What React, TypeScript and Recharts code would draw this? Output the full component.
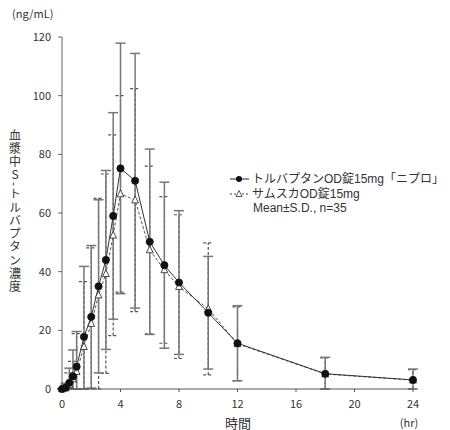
import React from 'react';
import { LineChart, Line, XAxis, YAxis, ErrorBar, Legend, Label } from 'recharts';

const FONT = '"Noto Sans CJK JP", "Noto Sans", sans-serif';
const LEGEND_FONT = '"Liberation Sans", "Noto Sans CJK JP", sans-serif';

const times = [0, 0.25, 0.5, 0.75, 1, 1.5, 2, 2.5, 3, 3.5, 4, 5, 6, 7, 8, 10, 12, 18, 24];
const tolvMean = [0, 0.5, 2.1, 4.3, 7.6, 17.8, 24.6, 35, 44, 59, 75.2, 71, 50.2, 42.2, 36.3, 26, 15.6, 5.2, 3.1];
const tolvSD = [0, 1.5, 5, 9, 12, 24, 24.3, 29.5, 30.5, 35.2, 42.7, 43.4, 31.6, 28.3, 24.5, 19.2, 12.8, 5.6, 3.7];
const samMean = [0, 0.3, 1.5, 3.4, 5.9, 14.4, 22.3, 32, 39.3, 52.4, 66.5, 64.4, 47.4, 40.6, 34.9, 27.3, 15.4, 5.1, 3.0];
const samSD = [0, 1, 4, 6, 13, 22.2, 25.8, 33, 34, 34.2, 33.5, 38, 28.6, 25, 24.5, 22.5, 12.6, 5.5, 3.6];

const xTicks = [0, 4, 8, 12, 16, 20, 24];
const yTicks = [0, 20, 40, 60, 80, 100, 120];

const seriesNames = ['トルバプタンOD錠15mg「ニプロ」', 'サムスカOD錠15mg'];
const statNote = 'Mean±S.D., n=35';
const yLabelHead = '血漿中S';
const yLabelDash = '-';
const yLabelTail = 'トルバプタン濃度';
const yUnit = '(ng/mL)';
const xLabel = '時間';
const xUnit = '(hr)';

const data = times.map((t, i) => ({
  t,
  tolv: tolvMean[i],
  tolvErr: [Math.min(tolvSD[i], tolvMean[i]), tolvSD[i]],
  sam: samMean[i],
  samErr: [Math.min(samSD[i], samMean[i]), samSD[i]],
}));

const CircleDot = (props: any) => {
  const { cx, cy } = props;
  if (cx == null || cy == null) return null;
  return <circle cx={cx} cy={cy} r={3.6} fill="#111" stroke="#111" strokeWidth={0.8} />;
};

const TriDot = (props: any) => {
  const { cx, cy } = props;
  if (cx == null || cy == null) return null;
  const s = 3.4;
  const pts = `${cx},${cy - s - 0.6} ${cx - s},${cy + s - 0.6} ${cx + s},${cy + s - 0.6}`;
  return <polygon points={pts} fill="#fff" stroke="#333" strokeWidth={0.9} />;
};

const YLabelContent = () => (
  <g>
    <text x={12} y={13} fontSize={11} fill="#333" fontFamily={FONT} dominantBaseline="central">
      {yUnit}
    </text>
    <text
      x={15}
      y={129}
      fontSize={12}
      fill="#333"
      fontFamily={FONT}
      letterSpacing={1.3}
      style={{ writingMode: 'vertical-rl', textOrientation: 'upright' } as any}
    >
      {yLabelHead}
      <tspan style={{ textOrientation: 'sideways' } as any}>{yLabelDash}</tspan>
      {yLabelTail}
    </text>
  </g>
);

const XLabelContent = () => (
  <g fontFamily={FONT} fill="#333">
    <text x={238} y={422} fontSize={13} textAnchor="middle" dominantBaseline="central">
      {xLabel}
    </text>
    <text x={409} y={422} fontSize={11} textAnchor="middle" dominantBaseline="central">
      {xUnit}
    </text>
  </g>
);

const rowStyle: React.CSSProperties = { display: 'flex', alignItems: 'center', height: 14.5 };
const textStyle: React.CSSProperties = { height: 14.5, lineHeight: '14.5px' };

const LegendContent = () => (
  <div style={{ fontFamily: LEGEND_FONT, fontSize: 12, color: '#333', whiteSpace: 'nowrap' }}>
    <div style={rowStyle}>
      <svg width={23} height={10} style={{ flex: 'none' }}>
        <line x1={1} y1={5} x2={20} y2={5} stroke="#222" strokeWidth={1} />
        <circle cx={10} cy={5} r={3} fill="#111" />
      </svg>
      <div style={textStyle}>{seriesNames[0]}</div>
    </div>
    <div style={rowStyle}>
      <svg width={23} height={10} style={{ flex: 'none' }}>
        <line x1={1} y1={5} x2={20} y2={5} stroke="#444" strokeWidth={1} strokeDasharray="2 2" />
        <polygon points="10,1.5 7,7.5 13,7.5" fill="#fff" stroke="#333" strokeWidth={0.8} />
      </svg>
      <div style={textStyle}>{seriesNames[1]}</div>
    </div>
    <div style={{ ...textStyle, paddingLeft: 24 }}>{statNote}</div>
  </div>
);

export default function App() {
  return (
    <div style={{ position: 'absolute', left: 0, top: 0, width: 450, height: 430, background: '#fff' }}>
      <LineChart
        width={450}
        height={430}
        data={data}
        margin={{ top: 37, right: 37, left: 0, bottom: 0 }}
        style={{ fontFamily: FONT }}
      >
        <XAxis
          type="number"
          dataKey="t"
          domain={[0, 24]}
          ticks={xTicks}
          height={41}
          tickSize={3}
          tickMargin={8}
          stroke="#555"
          tick={{ fill: '#333', fontSize: 11, fontFamily: FONT }}
        >
          <Label content={XLabelContent} />
        </XAxis>
        <YAxis
          type="number"
          domain={[0, 120]}
          ticks={yTicks}
          width={62}
          tickSize={4}
          tickMargin={7}
          stroke="#666"
          tick={{ fill: '#333', fontSize: 11, fontFamily: FONT }}
        >
          <Label content={YLabelContent} />
        </YAxis>
        <Legend
          layout="vertical"
          align="center"
          verticalAlign="middle"
          content={LegendContent}
          wrapperStyle={{ left: 229, top: 172, width: 220 }}
        />
        <Line
          dataKey="sam"
          stroke="#555"
          strokeWidth={1}
          strokeDasharray="3 2"
          dot={TriDot}
          activeDot={false}
          isAnimationActive={false}
        >
          <ErrorBar dataKey="samErr" direction="y" width={5} stroke="#555" strokeWidth={1.2} strokeDasharray="3 2" />
        </Line>
        <Line
          dataKey="tolv"
          stroke="#333"
          strokeWidth={1}
          dot={CircleDot}
          activeDot={false}
          isAnimationActive={false}
        >
          <ErrorBar dataKey="tolvErr" direction="y" width={5} stroke="#777" strokeWidth={1.5} />
        </Line>
      </LineChart>
    </div>
  );
}
